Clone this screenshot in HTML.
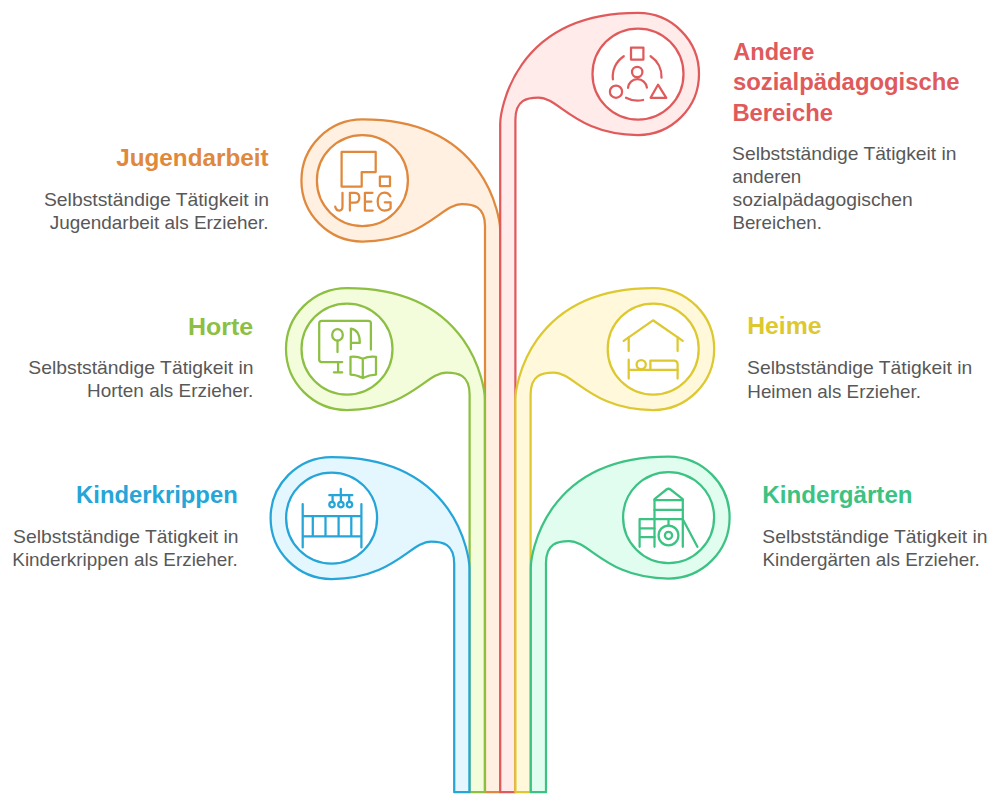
<!DOCTYPE html>
<html><head><meta charset="utf-8"><style>
html,body{margin:0;padding:0;background:#fff;width:1005px;height:799px;overflow:hidden}
svg{display:block;font-family:"Liberation Sans",sans-serif}
.t{font-weight:bold;font-size:24px}
.d{font-size:19px;fill:#585858}
.ico{font-family:"Liberation Sans",sans-serif}
</style></head><body>
<svg width="1005" height="799" viewBox="0 0 1005 799">
<g stroke="#E0883C" stroke-width="2.25" stroke-linejoin="round">
<path d="M500.2,792.2L500.2,230.5C500.2,220.2 488.4,119.5 362.4,119.5A61,61 0 0 0 362.4,241.5C424.3,241.5 441.3,204 461.9,204C473.25,204 485,206.1 485,226.1L485,792.2Z" fill="#FFF0E2"/>
<circle cx="362.4" cy="180.5" r="45.5" fill="#fff"/>
<g fill="none" stroke-linecap="round"><path d="M341.6,151.9 H375.7 V172 H361.7 V186.5 H341.6 Z"/>
<rect x="379.9" y="176.6" width="10.1" height="9.4"/>
<path d="M335.2,206.6 C336,209.6 337.8,210.6 339.3,210.6 C341.2,210.6 342.5,209.2 342.5,206.6 V192.8"/>
<path d="M349.9,210.6 V192.8 H354.9 C357.6,192.8 359.3,194.8 359.3,197.7 C359.3,200.6 357.6,202.6 354.9,202.6 H349.9"/>
<path d="M372.5,192.8 H364.9 V210.6 H372.7 M364.9,201.5 H371.4"/>
<path d="M390.3,196.3 C389.3,194 387.2,192.6 384.3,192.6 C380.3,192.6 377.7,196.2 377.7,201.6 C377.7,207 380.3,210.6 384.3,210.6 C387.3,210.6 389.4,209.6 390.6,208.2 V202.3 H384.8"/></g>
</g>
<g stroke="#E05A5C" stroke-width="2.25" stroke-linejoin="round">
<path d="M500.2,792.2L500.2,124C500.2,113.7 512,13 638,13A61,61 0 0 1 638,135C576.1,135 559.1,97.5 538.5,97.5C527.15,97.5 515.4,99.6 515.4,119.6L515.4,792.2Z" fill="#FFEBEA"/>
<circle cx="638" cy="74" r="45.5" fill="#fff"/>
<g fill="none" stroke-linecap="round"><rect x="631" y="47.6" width="12.4" height="11.9"/>
<circle cx="637.2" cy="72" r="5.2"/>
<path d="M628,87.8 A9.5,9.5 0 0 1 646.9,87.6"/>
<circle cx="616" cy="91.7" r="6.1"/>
<path d="M658,84.7 L666.3,97.8 L650.6,97.8 Z"/>
<path d="M623.8,56.2 A24.3,24.3 0 0 0 612.9,79.4"/>
<path d="M650.6,56.2 A24.3,24.3 0 0 1 661.5,77.7"/>
<path d="M626,97.8 A24.3,24.3 0 0 0 643.1,100"/></g>
</g>
<g stroke="#8CBF42" stroke-width="2.25" stroke-linejoin="round">
<path d="M484.8,792.2L484.8,399C484.8,388.7 473,288 347,288A61,61 0 0 0 347,410C408.9,410 425.9,372.5 446.5,372.5C457.85,372.5 469.6,374.6 469.6,394.6L469.6,792.2Z" fill="#F3FDDC"/>
<circle cx="347" cy="349" r="45.5" fill="#fff"/>
<g fill="none" stroke-linecap="round"><path d="M342.2,362 H321.8 A2.6,2.6 0 0 1 319.2,359.4 V323.4 A2.6,2.6 0 0 1 321.8,320.8 H368.3 A2.6,2.6 0 0 1 370.9,323.4 V349.5"/>
<path d="M338.1,362 V372.3 M333.9,372.3 H342.2"/>
<ellipse cx="337.5" cy="334.9" rx="5.3" ry="5.8"/>
<path d="M337.5,340.7 V352"/>
<path d="M350.9,349.2 V328.6 C357,329.5 359.8,335.5 359.8,342.9 H350.9"/>
<path d="M362.8,358.7 C359,357 354,356.5 350.5,356.9 V374.5 C354,374.5 359,376 362.8,378 C366.6,376 371.6,374.5 376,374.5 V356.9 C371.6,356.5 366.6,357 362.8,358.7 V378"/></g>
</g>
<g stroke="#DDC830" stroke-width="2.25" stroke-linejoin="round">
<path d="M515.4,792.2L515.4,399C515.4,388.7 527.2,288 653.2,288A61,61 0 0 1 653.2,410C591.3,410 574.3,372.5 553.7,372.5C542.35,372.5 530.6,374.6 530.6,394.6L530.6,792.2Z" fill="#FFF8DA"/>
<circle cx="653.2" cy="349" r="45.5" fill="#fff"/>
<g fill="none" stroke-linecap="round"><path d="M623.7,340.9 L653,320.3 L682.8,340.9"/>
<path d="M628.7,337.4 V351 M677.6,337.4 V351"/>
<path d="M628.7,359.7 V378.6 M628.7,369.8 H677.6 V378.6"/>
<circle cx="641.2" cy="364.6" r="4.6"/>
<path d="M650.4,369.8 V360.6 H674.1 A3.5,3.5 0 0 1 677.6,364.1 V369.8"/></g>
</g>
<g stroke="#25A5D8" stroke-width="2.25" stroke-linejoin="round">
<path d="M469.4,792.2L469.4,568C469.4,557.7 457.6,457 331.6,457A61,61 0 0 0 331.6,579C393.5,579 410.5,541.5 431.1,541.5C442.45,541.5 454.2,543.6 454.2,563.6L454.2,792.2Z" fill="#E5F7FE"/>
<circle cx="331.6" cy="518" r="45.5" fill="#fff"/>
<g fill="none" stroke-linecap="round"><path d="M302.7,504 V547.4 M361.4,504 V547.4 M302.7,516.1 H361.4 M302.7,536.4 H361.4 M312.8,516.1 V536.4 M325.5,516.1 V536.4 M338.6,516.1 V536.4 M351.3,516.1 V536.4"/>
<path d="M340.8,488.9 V495.2 M329.3,495.2 H352.3 M332.6,495.2 V501.9 M340.9,495.2 V501.9 M349.2,495.2 V501.9"/>
<circle cx="332" cy="504.6" r="2.7"/><circle cx="340.9" cy="504.6" r="2.7"/><circle cx="349.5" cy="504.6" r="2.7"/></g>
</g>
<g stroke="#3CC283" stroke-width="2.25" stroke-linejoin="round">
<path d="M530.8,792.2L530.8,567.5C530.8,557.2 542.6,456.5 668.6,456.5A61,61 0 0 1 668.6,578.5C606.7,578.5 589.7,541 569.1,541C557.75,541 546,543.1 546,563.1L546,792.2Z" fill="#E0FDF0"/>
<circle cx="668.6" cy="517.5" r="45.5" fill="#fff"/>
<g fill="none" stroke-linecap="round"><path d="M654.5,546.8 V499.1 L666.5,489.5 Q668.5,488 670.5,489.5 L682.8,499.1 V546.8"/>
<path d="M654.5,500 H682.8 M654.5,509.9 H682.8 M639.6,519.2 H682.8 M639.6,546.8 V519.2 M639.6,528.4 H654.5 M639.6,537.2 H654.5"/>
<path d="M668.5,519.2 V525.4 M682.8,519.2 L697.4,546.8"/>
<circle cx="668.5" cy="535.4" r="9.9"/><circle cx="668.5" cy="535.4" r="3.6"/></g>
</g>
<text class="t" x="733.21" y="59.8" textLength="81.27" lengthAdjust="spacingAndGlyphs" fill="#E05A5C">Andere</text>
<text class="t" x="732.95" y="90.4" textLength="226.65" lengthAdjust="spacingAndGlyphs" fill="#E05A5C">sozialpädagogische</text>
<text class="t" x="732.41" y="121.1" textLength="100.62" lengthAdjust="spacingAndGlyphs" fill="#E05A5C">Bereiche</text>
<text class="d" x="732.09" y="160.4" textLength="224.43" lengthAdjust="spacingAndGlyphs">Selbstständige Tätigkeit in</text>
<text class="d" x="732.36" y="183.0" textLength="68.96" lengthAdjust="spacingAndGlyphs">anderen</text>
<text class="d" x="732.59" y="205.6" textLength="180.14" lengthAdjust="spacingAndGlyphs">sozialpädagogischen</text>
<text class="d" x="732.42" y="228.5" textLength="89.55" lengthAdjust="spacingAndGlyphs">Bereichen.</text>
<text class="t" x="116.25" y="166.4" textLength="152.26" lengthAdjust="spacingAndGlyphs" fill="#E0883C">Jugendarbeit</text>
<text class="d" x="43.98" y="206.3" textLength="225.14" lengthAdjust="spacingAndGlyphs">Selbstständige Tätigkeit in</text>
<text class="d" x="49.75" y="228.8" textLength="218.83" lengthAdjust="spacingAndGlyphs">Jugendarbeit als Erzieher.</text>
<text class="t" x="187.94" y="334.8" textLength="65.26" lengthAdjust="spacingAndGlyphs" fill="#8CBF42">Horte</text>
<text class="d" x="28.38" y="374.3" textLength="225.14" lengthAdjust="spacingAndGlyphs">Selbstständige Tätigkeit in</text>
<text class="d" x="87.11" y="397.2" textLength="166.1" lengthAdjust="spacingAndGlyphs">Horten als Erzieher.</text>
<text class="t" x="76.11" y="503.0" textLength="161.63" lengthAdjust="spacingAndGlyphs" fill="#25A5D8">Kinderkrippen</text>
<text class="d" x="13.08" y="542.6" textLength="225.44" lengthAdjust="spacingAndGlyphs">Selbstständige Tätigkeit in</text>
<text class="d" x="12.31" y="565.6" textLength="225.56" lengthAdjust="spacingAndGlyphs">Kinderkrippen als Erzieher.</text>
<text class="t" x="747.15" y="334.4" textLength="74.47" lengthAdjust="spacingAndGlyphs" fill="#DDC830">Heime</text>
<text class="d" x="747.08" y="374.4" textLength="225.14" lengthAdjust="spacingAndGlyphs">Selbstständige Tätigkeit in</text>
<text class="d" x="747.31" y="397.5" textLength="173.56" lengthAdjust="spacingAndGlyphs">Heimen als Erzieher.</text>
<text class="t" x="762.39" y="502.8" textLength="150.17" lengthAdjust="spacingAndGlyphs" fill="#3CC283">Kindergärten</text>
<text class="d" x="762.28" y="542.5" textLength="225.24" lengthAdjust="spacingAndGlyphs">Selbstständige Tätigkeit in</text>
<text class="d" x="762.41" y="565.7" textLength="217.41" lengthAdjust="spacingAndGlyphs">Kindergärten als Erzieher.</text>
</svg></body></html>
